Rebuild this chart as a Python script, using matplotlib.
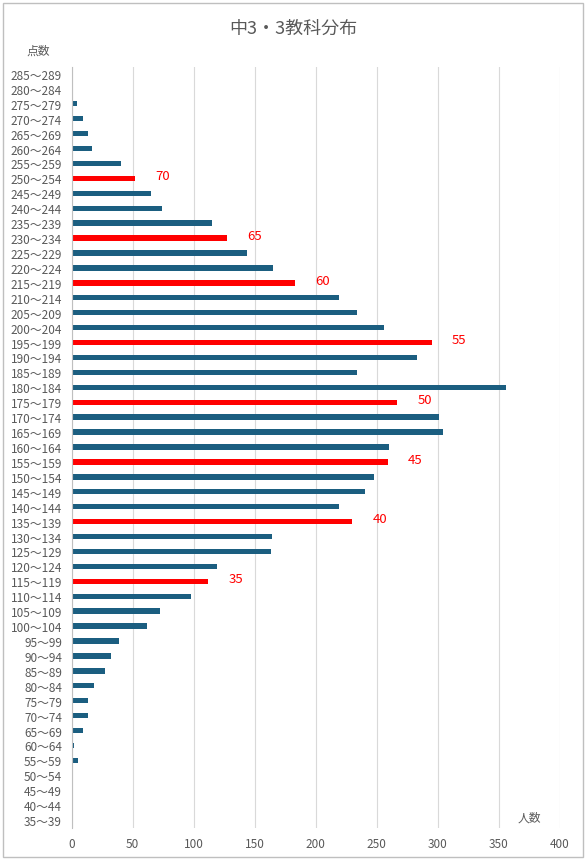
import numpy as np
import matplotlib.pyplot as plt
from matplotlib.patches import Rectangle

plt.rcParams['font.family'] = ['Noto Sans CJK JP', 'DejaVu Sans']

# -------------------------------
# Data: score bands (bottom to top) and number of students
# -------------------------------
bands = [f"{lo}〜{lo + 4}" for lo in range(35, 290, 5)]
counts = [0, 0, 0, 0, 5, 2, 9, 13, 13, 18,
          27, 32, 39, 62, 72, 98, 112, 119, 163, 164,
          230, 219, 240, 248, 259, 260, 304, 301, 267, 356,
          234, 283, 295, 256, 234, 219, 183, 165, 144, 127,
          115, 74, 65, 52, 40, 17, 13, 9, 4, 0, 0]

# highlighted bands and their deviation-score labels
mark_bands = ["115〜119", "135〜139", "155〜159", "175〜179",
              "195〜199", "215〜219", "230〜234", "250〜254"]
mark_labels = ["35", "40", "45", "50", "55", "60", "65", "70"]

blue = "#1B5E80"
red = "#FF0000"
grey = "#595959"

W, H = 587, 862
fig = plt.figure(figsize=(W / 100, H / 100), dpi=100)

# axes placed in pixel coordinates
left, right, top, bottom = 71.7, 559.7, 67.5, 828.5
ax = fig.add_axes([left / W, 1 - bottom / H, (right - left) / W, (bottom - top) / H])

y = np.arange(len(bands))
colors = [red if b in mark_bands else blue for b in bands]
ax.barh(y, counts, height=0.36, color=colors, zorder=3)

# red labels to the right of highlighted bars
for b, lab in zip(mark_bands, mark_labels):
    i = bands.index(b)
    ax.annotate(lab, (counts[i], i), xytext=(20, 2), textcoords='offset points',
                ha='center', va='center', color=red, fontsize=9.5)

ax.set_xlim(0, 400)
ax.set_ylim(-0.5, len(bands) - 0.5)
ax.set_xticks(range(0, 401, 50))
ax.set_yticks(y)
ax.set_yticklabels(bands)
ax.tick_params(axis='both', length=0, labelsize=8.5, colors=grey)
ax.tick_params(axis='y', pad=7)
ax.tick_params(axis='x', pad=7)
ax.grid(axis='x', color="#D9D9D9", linewidth=0.8, zorder=0)
for s in ['top', 'right', 'bottom']:
    ax.spines[s].set_visible(False)
ax.spines['left'].set_color("#BFBFBF")
ax.spines['left'].set_linewidth(0.8)
ax.spines['left'].set_zorder(4)

fig.text(293 / W, 1 - 29 / H, "中3・3教科分布", ha='center', va='center',
         fontsize=13, color=grey)
fig.text(38 / W, 1 - 51 / H, "点数", ha='center', va='center', fontsize=8.5, color=grey)
fig.text(529 / W, 1 - 818 / H, "人数", ha='center', va='center', fontsize=8.5, color=grey)

# outer chart border
fig.patches.append(Rectangle((3 / W, 4 / H), 580 / W, 854 / H, transform=fig.transFigure,
                             fill=False, edgecolor="#BFBFBF", linewidth=1))

fig.savefig("out.png", dpi=100)
